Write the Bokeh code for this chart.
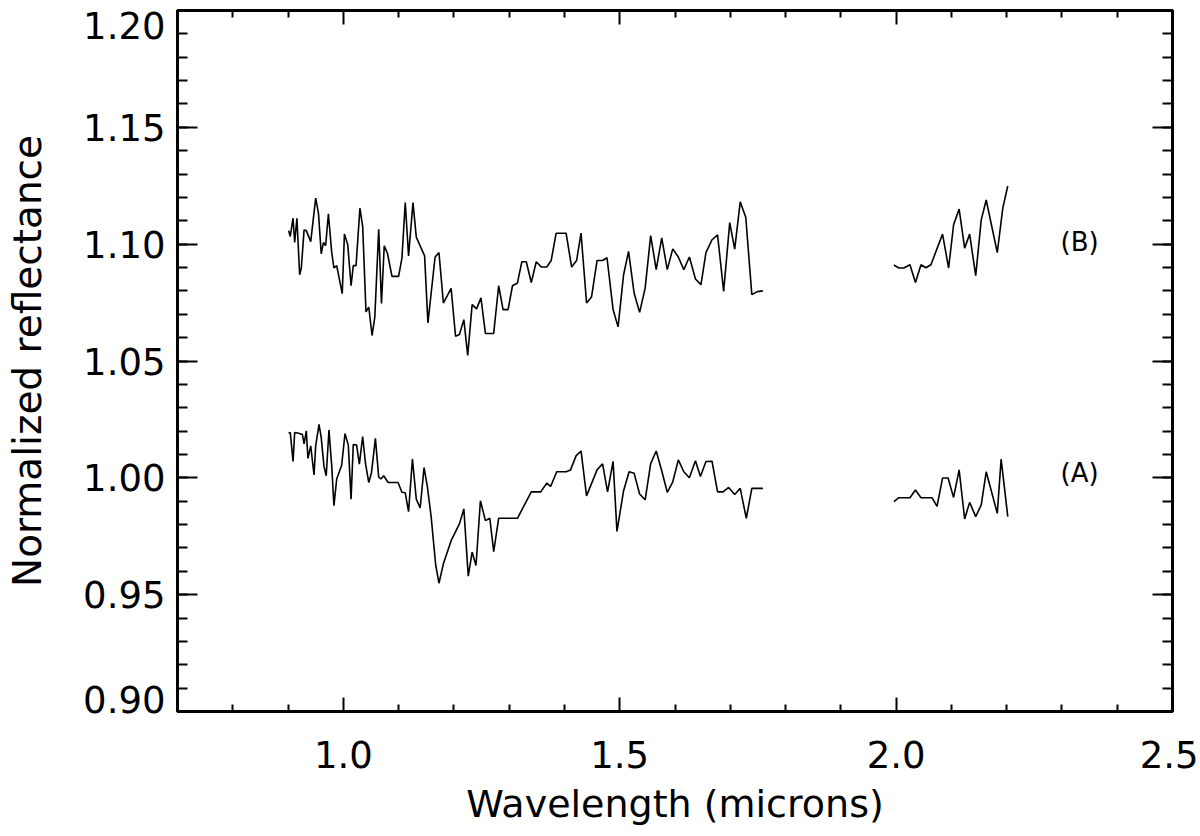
from bokeh.plotting import figure
from bokeh.models import LinearAxis, FixedTicker, Label, Range1d, PrintfTickFormatter
from bokeh.embed import file_html
from bokeh.resources import INLINE

# ---- data ----
b1_x = [0.901, 0.904, 0.909, 0.912, 0.916, 0.921, 0.924, 0.929, 0.933, 0.941,
        0.950, 0.955, 0.960, 0.964, 0.968, 0.973, 0.979, 0.983, 0.988, 0.998,
        1.002, 1.008, 1.014, 1.018, 1.023, 1.030, 1.035, 1.041, 1.046, 1.052,
        1.057, 1.064, 1.069, 1.074, 1.080, 1.088, 1.100, 1.106, 1.112, 1.118,
        1.126, 1.132, 1.147, 1.153, 1.166, 1.173, 1.181, 1.195, 1.203, 1.210,
        1.218, 1.225, 1.233, 1.241, 1.249, 1.257, 1.272, 1.281, 1.289, 1.298,
        1.306, 1.315, 1.323, 1.331, 1.340, 1.349, 1.358, 1.368, 1.376, 1.385,
        1.403, 1.413, 1.422, 1.430, 1.440, 1.449, 1.459, 1.469, 1.477, 1.488,
        1.497, 1.507, 1.516, 1.526, 1.536, 1.546, 1.556, 1.566, 1.576, 1.586,
        1.596, 1.606, 1.616, 1.626, 1.637, 1.647, 1.656, 1.667, 1.677, 1.688,
        1.699, 1.708, 1.718, 1.728, 1.739, 1.749, 1.759]
b1_y = [1.1058, 1.1033, 1.1111, 1.1007, 1.1111, 1.0869, 1.0898, 1.1061, 1.1058, 1.1011,
        1.1197, 1.1133, 1.0959, 1.1007, 1.0993, 1.1130, 1.0964, 1.0898, 1.0908, 1.0788,
        1.1044, 1.0997, 1.0822, 1.0908, 1.0908, 1.1154, 1.1075, 1.0710, 1.0731, 1.0609,
        1.0689, 1.1064, 1.0746, 1.0993, 1.0959, 1.0862, 1.0862, 1.0940, 1.1178, 1.0950,
        1.1178, 1.1030, 1.0950, 1.0663, 1.0945, 1.0964, 1.0748, 1.0811, 1.0606, 1.0613,
        1.0677, 1.0524, 1.0741, 1.0723, 1.0770, 1.0618, 1.0618, 1.0822, 1.0720, 1.0720,
        1.0822, 1.0834, 1.0925, 1.0925, 1.0836, 1.0925, 1.0902, 1.0902, 1.0930, 1.1047,
        1.1047, 1.0902, 1.0930, 1.1047, 1.0748, 1.0774, 1.0930, 1.0930, 1.0942, 1.0720,
        1.0646, 1.0869, 1.0969, 1.0791, 1.0708, 1.0812, 1.1037, 1.0891, 1.1027, 1.0891,
        1.0980, 1.0945, 1.0891, 1.0945, 1.0851, 1.0827, 1.0964, 1.1019, 1.1040, 1.0798,
        1.1092, 1.0979, 1.1181, 1.1115, 1.0784, 1.0797, 1.0800]

b2_x = [1.996, 2.005, 2.014, 2.025, 2.035, 2.045, 2.054, 2.063, 2.084, 2.095,
        2.104, 2.114, 2.124, 2.133, 2.144, 2.154, 2.163, 2.183, 2.193, 2.202]
b2_y = [1.0911, 1.0898, 1.0898, 1.0912, 1.0836, 1.0912, 1.0899, 1.0912, 1.1043, 1.0898,
        1.1083, 1.1150, 1.0983, 1.1043, 1.0865, 1.1104, 1.1189, 1.0964, 1.1154, 1.1249]

a1_x = [0.901, 0.904, 0.909, 0.912, 0.919, 0.926, 0.929, 0.933, 0.936, 0.941,
        0.947, 0.950, 0.956, 0.960, 0.965, 0.969, 0.974, 0.979, 0.983, 0.988,
        0.997, 1.003, 1.009, 1.014, 1.018, 1.024, 1.029, 1.035, 1.040, 1.046,
        1.051, 1.058, 1.064, 1.068, 1.073, 1.081, 1.089, 1.099, 1.106, 1.112,
        1.118, 1.125, 1.132, 1.139, 1.146, 1.152, 1.159, 1.167, 1.173, 1.181,
        1.195, 1.210, 1.218, 1.226, 1.233, 1.240, 1.248, 1.257, 1.265, 1.272,
        1.281, 1.315, 1.340, 1.357, 1.368, 1.375, 1.386, 1.403, 1.411, 1.421,
        1.430, 1.440, 1.459, 1.469, 1.478, 1.488, 1.495, 1.507, 1.517, 1.526,
        1.536, 1.546, 1.556, 1.566, 1.576, 1.586, 1.596, 1.606, 1.616, 1.626,
        1.637, 1.646, 1.656, 1.667, 1.677, 1.687, 1.697, 1.708, 1.718, 1.729,
        1.739, 1.759]
a1_y = [1.0191, 1.0194, 1.0070, 1.0194, 1.0191, 1.0185, 1.0145, 1.0201, 1.0083, 1.0137,
        1.0012, 1.0137, 1.0229, 1.0172, 1.0049, 1.0009, 1.0205, 1.0051, 0.9881, 0.9995,
        1.0054, 1.0189, 1.0140, 0.9909, 1.0143, 1.0140, 1.0059, 1.0177, 1.0063, 0.9980,
        1.0023, 1.0169, 1.0003, 0.9995, 1.0009, 0.9980, 0.9980, 0.9980, 0.9938, 0.9936,
        0.9855, 1.0080, 0.9909, 0.9871, 1.0044, 0.9963, 0.9831, 0.9628, 0.9549, 0.9632,
        0.9731, 0.9803, 0.9867, 0.9579, 0.9682, 0.9625, 0.9902, 0.9817, 0.9827, 0.9684,
        0.9827, 0.9827, 0.9940, 0.9940, 0.9977, 0.9963, 1.0026, 1.0026, 1.0034, 1.0094,
        1.0115, 0.9923, 1.0034, 1.0060, 0.9940, 1.0070, 0.9771, 0.9945, 1.0026, 1.0020,
        0.9931, 0.9906, 1.0061, 1.0115, 1.0030, 0.9938, 0.9983, 1.0077, 1.0026, 1.0000,
        1.0073, 1.0006, 1.0070, 1.0071, 0.9940, 0.9940, 0.9959, 0.9929, 0.9955, 0.9827,
        0.9955, 0.9955]

a2_x = [1.996, 2.005, 2.025, 2.035, 2.045, 2.065, 2.074, 2.084, 2.094, 2.104,
        2.114, 2.124, 2.133, 2.144, 2.154, 2.163, 2.183, 2.190, 2.202]
a2_y = [0.9898, 0.9915, 0.9915, 0.9948, 0.9915, 0.9915, 0.9878, 0.9999, 0.9999, 0.9916,
        1.0034, 0.9824, 0.9895, 0.9834, 0.9884, 1.0026, 0.9848, 1.0080, 0.9834]

series_names = ["(B)", "(A)"]
series_label_y = [1.101, 1.002]

x_major_ticks = [1.0, 1.5, 2.0, 2.5]
x_minor_ticks = [0.8, 0.9, 1.1, 1.2, 1.3, 1.4, 1.6, 1.7, 1.8, 1.9, 2.1, 2.2, 2.3, 2.4]
y_major_ticks = [0.90, 0.95, 1.00, 1.05, 1.10, 1.15, 1.20]
y_tick_labels = ["0.90", "0.95", "1.00", "1.05", "1.10", "1.15", "1.20"]
y_minor_ticks = [round(0.90 + 0.01 * i, 2) for i in range(31)]

FONT = "DejaVu Sans"
FRAME_H = 703
Y0, Y1 = 0.90, 1.20

p = figure(width=1198, height=828, x_range=Range1d(0.7, 2.5), y_range=Range1d(Y0, Y1),
           output_backend="svg", toolbar_location=None,
           min_border_left=177, min_border_right=26, min_border_top=10, min_border_bottom=115,
           background_fill_color="white", border_fill_color="white")
p.xgrid.visible = False
p.ygrid.visible = False
p.outline_line_color = "black"
p.outline_line_width = 3

bottom_axis = p.below[0]
left_axis = p.left[0]
top_axis = LinearAxis()
right_axis = LinearAxis()
p.add_layout(top_axis, "above")
p.add_layout(right_axis, "right")

xt = FixedTicker(ticks=x_major_ticks, minor_ticks=x_minor_ticks)
yt = FixedTicker(ticks=y_major_ticks, minor_ticks=y_minor_ticks)

for ax in [bottom_axis, top_axis]:
    ax.ticker = xt
    ax.major_tick_in = 14
    ax.major_tick_out = 0
    ax.minor_tick_in = 7
    ax.minor_tick_out = 0
for ax in [left_axis, right_axis]:
    ax.ticker = yt
    ax.major_tick_in = 20
    ax.major_tick_out = 0
    ax.minor_tick_in = 10
    ax.minor_tick_out = 0
for ax in [bottom_axis, top_axis, left_axis, right_axis]:
    ax.axis_line_color = "black"
    ax.axis_line_width = 3
    ax.major_tick_line_color = "black"
    ax.major_tick_line_width = 2
    ax.minor_tick_line_color = "black"
    ax.minor_tick_line_width = 2
for ax, ticks in [(top_axis, x_major_ticks), (right_axis, y_major_ticks), (left_axis, y_major_ticks)]:
    ax.major_label_text_font_size = "0px"
    ax.major_label_standoff = 0
    ax.major_label_overrides = {t: "" for t in ticks}

bottom_axis.formatter = PrintfTickFormatter(format="%.1f")
bottom_axis.major_label_text_font = FONT
bottom_axis.major_label_text_font_size = "37px"
bottom_axis.major_label_text_color = "black"
bottom_axis.major_label_standoff = 29
bottom_axis.axis_label = "Wavelength (microns)"
bottom_axis.axis_label_text_font = FONT
bottom_axis.axis_label_text_font_size = "38px"
bottom_axis.axis_label_text_font_style = "normal"
bottom_axis.axis_label_text_color = "black"
bottom_axis.axis_label_standoff = 11

# second left axis carrying the tick labels; like IDL, the end labels
# are kept inside the frame height (shifted by a few pixels)
px = (Y1 - Y0) / FRAME_H
label_pos = []
for t in y_major_ticks:
    if t == max(y_major_ticks):
        label_pos.append(t - 15 * px)
    elif t == min(y_major_ticks):
        label_pos.append(t + 12 * px)
    else:
        label_pos.append(t)
label_axis = LinearAxis(ticker=FixedTicker(ticks=label_pos, minor_ticks=[]))
label_axis.major_label_overrides = {pos: lab for pos, lab in zip(label_pos, y_tick_labels)}
label_axis.axis_line_color = None
label_axis.major_tick_line_color = None
label_axis.minor_tick_line_color = None
label_axis.major_tick_in = 0
label_axis.major_tick_out = 0
label_axis.major_label_standoff = 12
label_axis.major_label_text_font = FONT
label_axis.major_label_text_font_size = "37px"
label_axis.major_label_text_color = "black"
label_axis.axis_label = "Normalized reflectance"
label_axis.axis_label_text_font = FONT
label_axis.axis_label_text_font_size = "39px"
label_axis.axis_label_text_font_style = "normal"
label_axis.axis_label_text_color = "black"
label_axis.axis_label_standoff = 30
p.add_layout(label_axis, "left")

for xs, ys in [(b1_x, b1_y), (b2_x, b2_y), (a1_x, a1_y), (a2_x, a2_y)]:
    p.line(xs, ys, line_color="black", line_width=1.6)

for name, yv in zip(series_names, series_label_y):
    p.add_layout(Label(x=2.332, y=yv, text=name, text_align="center", text_baseline="middle",
                       text_font=FONT, text_font_size="26px", text_color="black"))

open("out.html", "w").write(file_html(p, INLINE))
